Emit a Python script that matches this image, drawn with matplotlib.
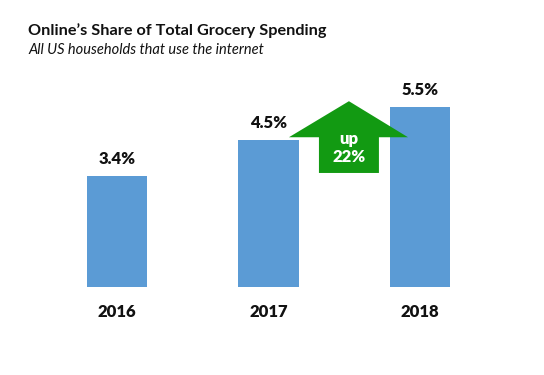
import matplotlib
matplotlib.use("Agg")
import matplotlib.pyplot as plt
from matplotlib.patches import Polygon

years = ["2016", "2017", "2018"]
share = [3.4, 4.5, 5.5]

plt.rcParams["font.family"] = ["Lato", "DejaVu Sans"]

fig = plt.figure(figsize=(5.44, 3.75), dpi=100)
ax = fig.add_axes([11 / 544, 88 / 375, 515 / 544, 213 / 375])

x = list(range(len(years)))
ax.bar(x, share, width=0.40, color="#5B9BD5")
ax.set_xlim(-0.7, 2.7)
ax.set_ylim(0, 6.5)
ax.axis("off")

for xi, v in zip(x, share):
    ax.annotate(f"{v}%", (xi, v), xytext=(0, 12), textcoords="offset points",
                ha="center", va="center", fontsize=12, fontweight="heavy", color="#111111")
    ax.annotate(years[xi], (xi, 0), xytext=(0, -18), textcoords="offset points",
                ha="center", va="center", fontsize=12, fontweight="heavy", color="#111111")

# growth arrow between 2017 and 2018
growth = round((share[2] - share[1]) / share[1] * 100)
arrow = Polygon([(1.333, 3.48), (1.729, 3.48), (1.729, 4.57), (1.921, 4.57),
                 (1.531, 5.67), (1.135, 4.57), (1.333, 4.57)],
                closed=True, facecolor="#129A12", edgecolor="none")
ax.add_patch(arrow)
ax.text(1.531, 4.24, f"up\n{growth}%", ha="center", va="center", fontsize=12,
        fontweight="heavy", color="white", linespacing=1.2)

fig.text(28 / 544, 1 - 31 / 375, "Online\u2019s Share of Total Grocery Spending",
         fontsize=11.7, fontweight="bold", va="center", ha="left", color="#111111")
fig.text(28 / 544, 1 - 50 / 375, "All US households that use the internet",
         fontsize=10.5, style="italic", va="center", ha="left", color="#111111")

fig.savefig("out.png", dpi=100)
